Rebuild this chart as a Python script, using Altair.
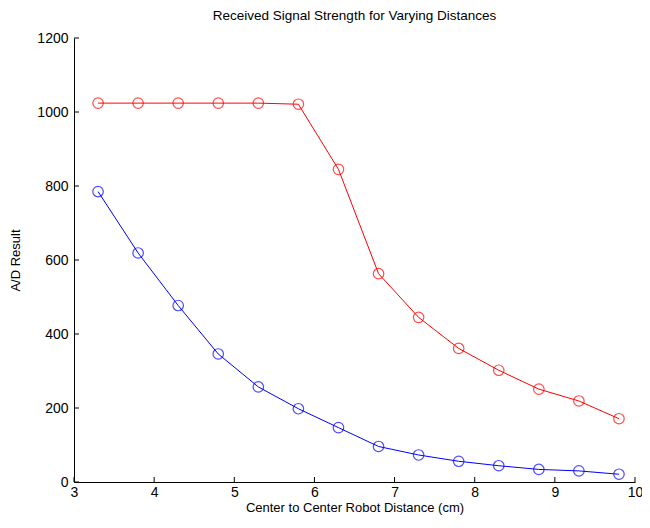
import altair as alt
import pandas as pd

distance = [3.3, 3.8, 4.3, 4.8, 5.3, 5.8, 6.3, 6.8, 7.3, 7.8, 8.3, 8.8, 9.3, 9.8]
red_values = [1024, 1024, 1024, 1024, 1024, 1021, 845, 563, 445, 361, 302, 251, 219, 171]
blue_values = [785, 619, 477, 346, 257, 198, 147, 96, 73, 56, 44, 34, 30, 21]
x_ticks = [3, 4, 5, 6, 7, 8, 9, 10]
y_ticks = [0, 200, 400, 600, 800, 1000, 1200]

W, H = 561, 444
FONT = "Liberation Sans"

df = pd.DataFrame({
    "d": distance * 2,
    "v": red_values + blue_values,
    "s": ["red"] * len(distance) + ["blue"] * len(distance),
})

xs = alt.Scale(domain=[3, 10], nice=False, zero=False)
ys = alt.Scale(domain=[0, 1200], nice=False)
cs = alt.Scale(domain=["red", "blue"], range=["#ff0000", "#0000ff"])

x_axis = alt.Axis(values=x_ticks, format="d", tickSize=0, labelPadding=3, labelFontSize=14,
                  labelFont=FONT, labelColor="#000", domainColor="#000", labelFlush=False,
                  title="Center to Center Robot Distance (cm)", titleFont=FONT,
                  titleFontSize=13, titleFontWeight="normal", titleColor="#000",
                  titlePadding=2, grid=False)
y_axis = alt.Axis(values=y_ticks, format="d", tickSize=0, labelPadding=6, labelFontSize=14,
                  labelFont=FONT, labelColor="#000", domainColor="#000",
                  title="A/D Result", titleFont=FONT, titleFontSize=13,
                  titleFontWeight="normal", titleColor="#000", titlePadding=14,
                  grid=False)

lines = alt.Chart(df).mark_line(strokeWidth=1).encode(
    x=alt.X("d:Q", scale=xs, axis=x_axis),
    y=alt.Y("v:Q", scale=ys, axis=y_axis),
    color=alt.Color("s:N", scale=cs, legend=None),
    detail="s:N",
)
points = alt.Chart(df).mark_point(shape="circle", filled=False, size=110, strokeWidth=1.2).encode(
    x=alt.X("d:Q", scale=xs),
    y=alt.Y("v:Q", scale=ys),
    color=alt.Color("s:N", scale=cs, legend=None),
)

xt = alt.Chart(pd.DataFrame({"t": x_ticks})).mark_rule(color="#000", strokeWidth=1).encode(
    x=alt.X("t:Q", scale=xs),
    y=alt.value(H),
    y2=alt.value(H - 5),
)
yt = alt.Chart(pd.DataFrame({"t": y_ticks})).mark_rule(color="#000", strokeWidth=1).encode(
    y=alt.Y("t:Q", scale=ys),
    x=alt.value(0),
    x2=alt.value(5),
)

chart = alt.layer(lines, points, xt, yt).properties(
    width=W, height=H,
    title=alt.TitleParams("Received Signal Strength for Varying Distances", font=FONT,
                          fontSize=13.5, fontWeight="normal", color="#000", offset=9),
    autosize=alt.AutoSizeParams(type="none"),
    padding={"left": 66, "top": 30, "right": 7, "bottom": 36},
).configure_view(stroke=None)

chart.save("out.html", embed_options={"renderer": "svg", "actions": False})
